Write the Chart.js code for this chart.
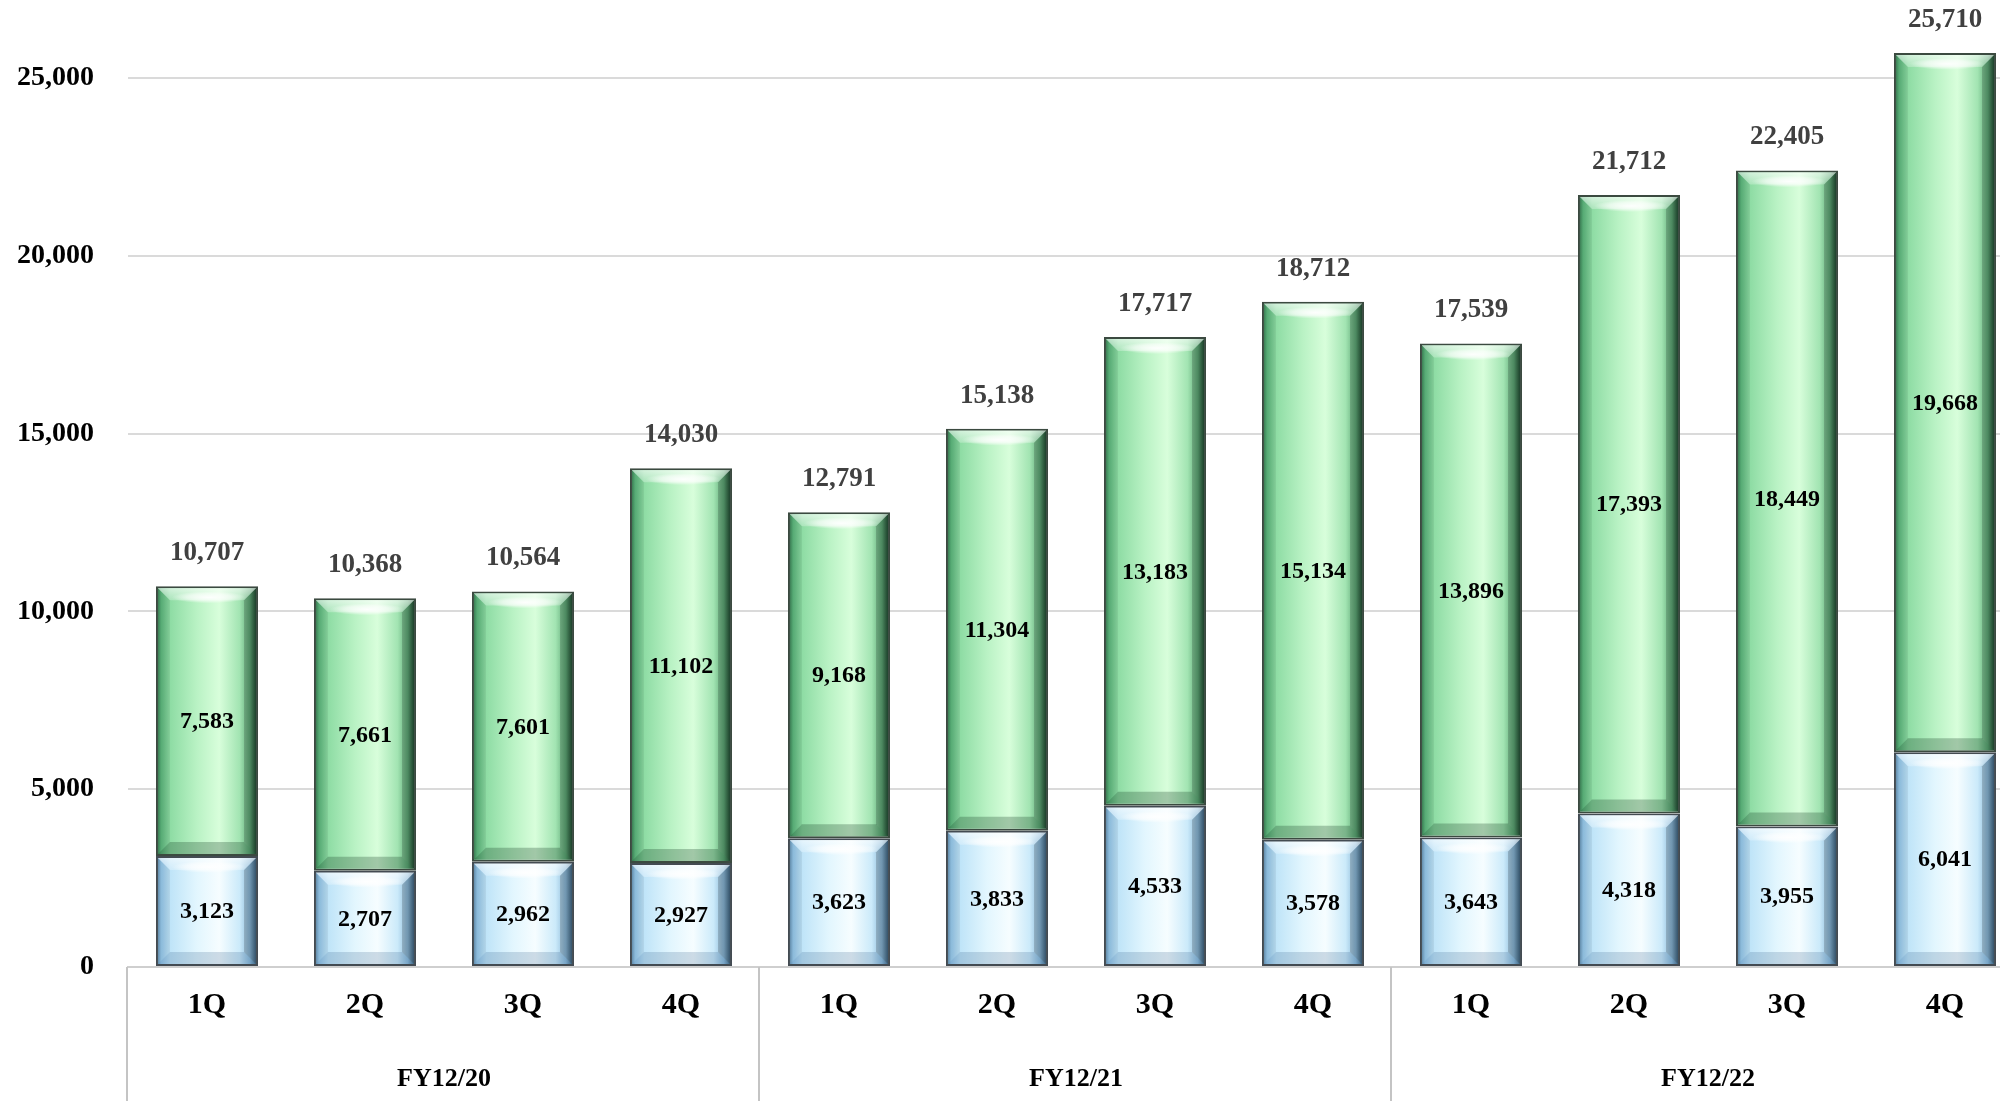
<!DOCTYPE html>
<html>
<head>
<meta charset="utf-8">
<script src="https://cdn.jsdelivr.net/npm/chart.js@4/dist/chart.umd.min.js"></script>
<style>
  html, body { margin: 0; padding: 0; background: #ffffff; overflow: hidden; }
  #wrap { position: relative; width: 2024px; height: 1101px; }
</style>
</head>
<body>
<div id="wrap"><canvas id="chart"></canvas></div>
<script>
// Quarterly figures, three fiscal years
const quarters = ['1Q', '2Q', '3Q', '4Q', '1Q', '2Q', '3Q', '4Q', '1Q', '2Q', '3Q', '4Q'];
const fiscalYears = ['FY12/20', 'FY12/21', 'FY12/22'];
const lowerSeries = [3123, 2707, 2962, 2927, 3623, 3833, 4533, 3578, 3643, 4318, 3955, 6041];
const upperSeries = [7583, 7661, 7601, 11102, 9168, 11304, 13183, 15134, 13896, 17393, 18449, 19668];
const totals = [10707, 10368, 10564, 14030, 12791, 15138, 17717, 18712, 17539, 21712, 22405, 25710];
const yTicks = [0, 5000, 10000, 15000, 20000, 25000];

const SERIF = '"Liberation Serif", "Times New Roman", serif';
const BAR_PCT = 0.646;
const fmt = v => v.toLocaleString('en-US');

const greenStops = [
  [0, '#2c6844'], [0.05, '#5cb67c'], [0.14, '#8edca4'], [0.4, '#b9f2c4'],
  [0.62, '#d8fedb'], [0.82, '#a2e4b2'], [0.92, '#5ea876'], [0.97, '#2d5e40'], [1, '#1b3a28']
];
const blueStops = [
  [0, '#4f7898'], [0.05, '#94c6e8'], [0.14, '#bfe4f8'], [0.4, '#e2f6fe'],
  [0.62, '#f6fdff'], [0.82, '#cbeafa'], [0.92, '#8ab8d8'], [0.97, '#4e7592'], [1, '#2f4a60']
];

function barGradient(stops) {
  return function (ctx) {
    const chart = ctx.chart;
    const area = chart.chartArea;
    if (!area) return stops[4][1];
    const xs = chart.scales.x;
    const cx = xs.getPixelForValue(ctx.dataIndex);
    const w = (area.width / quarters.length) * BAR_PCT;
    const g = chart.ctx.createLinearGradient(cx - w / 2, 0, cx + w / 2, 0);
    stops.forEach(s => g.addColorStop(s[0], s[1]));
    return g;
  };
}

// Bevel shading, value labels, fiscal-year group labels and separators
const decorPlugin = {
  id: 'decor',
  afterDatasetsDraw(chart) {
    const ctx = chart.ctx;
    const metas = [chart.getDatasetMeta(0), chart.getDatasetMeta(1)];
    ctx.save();
    metas.forEach((meta, di) => {
      meta.data.forEach(el => {
        const p = el.getProps(['x', 'y', 'base', 'width'], true);
        const l = p.x - p.width / 2 + 2, r = p.x + p.width / 2 - 2;
        const t = Math.min(p.y, p.base) + 2, b = Math.max(p.y, p.base) - 2;
        const bv = Math.min(12, (b - t) / 3);
        // top bevel
        let g = ctx.createLinearGradient(0, t, 0, t + bv);
        g.addColorStop(0, 'rgba(255,255,255,0.6)');
        g.addColorStop(1, 'rgba(255,255,255,0.25)');
        ctx.fillStyle = g;
        ctx.beginPath();
        ctx.moveTo(l, t); ctx.lineTo(r, t); ctx.lineTo(r - bv, t + bv); ctx.lineTo(l + bv, t + bv);
        ctx.closePath(); ctx.fill();
        // bottom bevel
        ctx.fillStyle = di === 0 ? 'rgba(60,100,140,0.22)' : 'rgba(20,60,35,0.28)';
        ctx.beginPath();
        ctx.moveTo(l, b); ctx.lineTo(r, b); ctx.lineTo(r - bv, b - bv); ctx.lineTo(l + bv, b - bv);
        ctx.closePath(); ctx.fill();
        // left bevel
        ctx.fillStyle = 'rgba(0,0,0,0.06)';
        ctx.beginPath();
        ctx.moveTo(l, t); ctx.lineTo(l + bv, t + bv); ctx.lineTo(l + bv, b - bv); ctx.lineTo(l, b);
        ctx.closePath(); ctx.fill();
        // right bevel
        ctx.fillStyle = 'rgba(0,0,0,0.18)';
        ctx.beginPath();
        ctx.moveTo(r, t); ctx.lineTo(r - bv, t + bv); ctx.lineTo(r - bv, b - bv); ctx.lineTo(r, b);
        ctx.closePath(); ctx.fill();
        // glossy highlight along the top
        const hw = (r - l) * 0.38;
        ctx.save();
        ctx.beginPath(); ctx.rect(l, t, r - l, b - t); ctx.clip();
        ctx.translate(p.x + 2, t + bv * 0.75);
        ctx.scale(1, 0.16);
        g = ctx.createRadialGradient(0, 0, 0, 0, 0, hw);
        g.addColorStop(0, 'rgba(255,255,255,0.95)');
        g.addColorStop(0.6, 'rgba(255,255,255,0.55)');
        g.addColorStop(1, 'rgba(255,255,255,0)');
        ctx.fillStyle = g;
        ctx.beginPath(); ctx.arc(0, 0, hw, 0, Math.PI * 2); ctx.fill();
        ctx.restore();
      });
    });

    // values inside the segments
    ctx.textAlign = 'center';
    ctx.textBaseline = 'middle';
    ctx.fillStyle = '#000000';
    ctx.font = 'bold 24px ' + SERIF;
    metas.forEach((meta, di) => {
      const vals = di === 0 ? lowerSeries : upperSeries;
      meta.data.forEach((el, i) => {
        const p = el.getProps(['x', 'y', 'base'], true);
        ctx.fillText(fmt(vals[i]), p.x, (p.y + p.base) / 2 + 1);
      });
    });
    // totals above the stacks
    ctx.fillStyle = '#404040';
    ctx.font = 'bold 27px ' + SERIF;
    metas[1].data.forEach((el, i) => {
      const p = el.getProps(['x', 'y'], true);
      ctx.fillText(fmt(totals[i]), p.x, p.y - 33);
    });

    // fiscal-year groups under the quarter labels
    const xs = chart.scales.x;
    const step = xs.getPixelForValue(1) - xs.getPixelForValue(0);
    const y0 = chart.scales.y.getPixelForValue(0);
    ctx.strokeStyle = '#c4c4c4';
    ctx.lineWidth = 2;
    for (let gi = 0; gi <= fiscalYears.length; gi++) {
      const x = Math.round(xs.getPixelForValue(gi * 4) - step / 2) - 1;
      ctx.beginPath(); ctx.moveTo(x, y0); ctx.lineTo(x, chart.height); ctx.stroke();
    }
    ctx.fillStyle = '#000000';
    ctx.font = 'bold 26px ' + SERIF;
    fiscalYears.forEach((fy, gi) => {
      const cx = (xs.getPixelForValue(gi * 4) + xs.getPixelForValue(gi * 4 + 3)) / 2;
      ctx.fillText(fy, cx, 1079);
    });
    ctx.restore();
  }
};

new Chart(document.getElementById('chart'), {
  type: 'bar',
  data: {
    labels: quarters,
    datasets: [
      {
        data: lowerSeries,
        backgroundColor: barGradient(blueStops),
        borderColor: '#434b52',
        borderWidth: 2,
        borderSkipped: false,
        barPercentage: BAR_PCT,
        categoryPercentage: 1
      },
      {
        data: upperSeries,
        backgroundColor: barGradient(greenStops),
        borderColor: '#3b4a40',
        borderWidth: 2,
        borderSkipped: false,
        barPercentage: BAR_PCT,
        categoryPercentage: 1
      }
    ]
  },
  options: {
    responsive: true,
    maintainAspectRatio: false,
    animation: false,
    layout: { padding: { top: 7, right: 0, left: 0, bottom: 0 } },
    plugins: { legend: { display: false }, tooltip: { enabled: false } },
    scales: {
      x: {
        stacked: true,
        grid: { display: false, drawTicks: false },
        border: { display: true, color: '#cfcfcf', width: 2 },
        ticks: {
          color: '#000000',
          font: { family: SERIF, size: 30, weight: 'bold' },
          padding: 20,
          maxRotation: 0,
          autoSkip: false
        },
        afterFit(scale) { scale.height = 134; }
      },
      y: {
        stacked: true,
        min: 0,
        max: 27000,
        afterBuildTicks(scale) { scale.ticks = yTicks.map(v => ({ value: v })); },
        grid: { color: '#dadada', lineWidth: 2, drawTicks: false },
        border: { display: false },
        ticks: {
          color: '#000000',
          font: { family: SERIF, size: 28, weight: 'bold' },
          padding: 34,
          callback: v => fmt(v)
        },
        afterFit(scale) {
          scale.width = 128;
          scale.paddingTop = 0;
          scale.paddingBottom = 0;
        }
      }
    }
  },
  plugins: [decorPlugin]
});
</script>
</body>
</html>
